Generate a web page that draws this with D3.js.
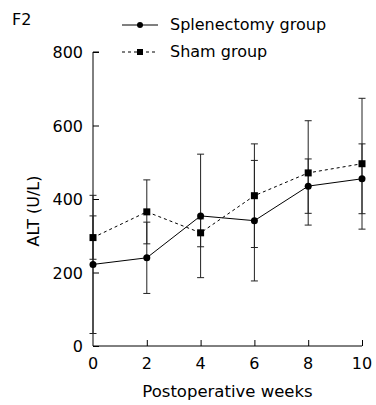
<!DOCTYPE html>
<html>
<head>
<meta charset="utf-8"/>
<script src="https://cdnjs.cloudflare.com/ajax/libs/d3/7.8.5/d3.min.js"></script>
<style>
  body { margin: 0; background: #fff; }
  text { font-family: "DejaVu Sans", Verdana, sans-serif; }
</style>
</head>
<body>
<script>
// postoperative weeks
const weeks = [0, 2, 4, 6, 8, 10];
// ALT (U/L), mean and SD
const splenMean = [222, 240, 354, 341, 435, 455];
const splenSD   = [188, 97, 168, 164, 74, 95];
const shamMean  = [295, 365, 308, 409, 471, 496];
const shamSD    = [59, 87, 38, 141, 142, 178];
const yTicks = [0, 200, 400, 600, 800];
const xTicks = [0, 2, 4, 6, 8, 10];

const width = 376, height = 405;
const margin = {top: 52, right: 14, bottom: 59, left: 93};

const svg = d3.select("body").append("svg")
    .attr("width", width)
    .attr("height", height);

const x = d3.scaleLinear().domain([0, 10]).range([margin.left, width - margin.right]);
const y = d3.scaleLinear().domain([0, 800]).range([height - margin.bottom, margin.top]);

// axes, ticks pointing inward
svg.append("g")
    .attr("transform", `translate(${margin.left},0)`)
    .call(d3.axisRight(y).tickValues(yTicks).tickSize(6).tickFormat(""))
    .call(g => g.select(".domain").attr("d", `M6,${y(800)}H0V${y(0)}`));

svg.append("g")
    .selectAll("text")
    .data(yTicks)
    .join("text")
    .attr("x", margin.left - 10)
    .attr("y", d => y(d) + 6)
    .attr("text-anchor", "end")
    .attr("font-size", 16)
    .text(d => d);

svg.append("g")
    .attr("transform", `translate(0,${height - margin.bottom})`)
    .call(d3.axisTop(x).tickValues(xTicks.slice(1)).tickSize(6).tickFormat(""))
    .call(g => g.select(".domain").attr("d", `M${x(0)},0H${x(10)}`));

svg.append("g")
    .selectAll("text")
    .data(xTicks)
    .join("text")
    .attr("x", d => x(d))
    .attr("y", height - margin.bottom + 23)
    .attr("text-anchor", "middle")
    .attr("font-size", 16)
    .text(d => d);

svg.selectAll(".domain, .tick line").attr("stroke", "#000");

// axis titles
svg.append("text")
    .attr("x", (x(0) + x(10)) / 2)
    .attr("y", 397)
    .attr("text-anchor", "middle")
    .attr("font-size", 16.5)
    .text("Postoperative weeks");

svg.append("text")
    .attr("transform", `translate(39,${y(400) + 12}) rotate(-90)`)
    .attr("text-anchor", "middle")
    .attr("font-size", 16)
    .text("ALT (U/L)");

svg.append("text")
    .attr("x", 12)
    .attr("y", 25)
    .attr("font-size", 16)
    .text("F2");

// error bars
function errorBars(mean, sd) {
  const g = svg.append("g").attr("stroke", "#222").attr("stroke-width", 1);
  weeks.forEach((w, i) => {
    const cx = x(w), hi = y(mean[i] + sd[i]), lo = y(mean[i] - sd[i]);
    g.append("line").attr("x1", cx).attr("x2", cx).attr("y1", hi).attr("y2", lo);
    g.append("line").attr("x1", cx - 3.5).attr("x2", cx + 3.5).attr("y1", hi).attr("y2", hi);
    g.append("line").attr("x1", cx - 3.5).attr("x2", cx + 3.5).attr("y1", lo).attr("y2", lo);
  });
}
errorBars(shamMean, shamSD);
errorBars(splenMean, splenSD);

const line = d3.line().x((d, i) => x(weeks[i])).y(d => y(d));

svg.append("path")
    .datum(shamMean)
    .attr("fill", "none")
    .attr("stroke", "#000")
    .attr("stroke-dasharray", "3,3")
    .attr("d", line);

svg.append("path")
    .datum(splenMean)
    .attr("fill", "none")
    .attr("stroke", "#000")
    .attr("d", line);

svg.append("g")
    .selectAll("rect")
    .data(shamMean)
    .join("rect")
    .attr("x", (d, i) => x(weeks[i]) - 3.5)
    .attr("y", d => y(d) - 3.5)
    .attr("width", 7)
    .attr("height", 7)
    .attr("fill", "#000");

svg.append("g")
    .selectAll("circle")
    .data(splenMean)
    .join("circle")
    .attr("cx", (d, i) => x(weeks[i]))
    .attr("cy", d => y(d))
    .attr("r", 3.5)
    .attr("fill", "#000");

// legend
const legend = svg.append("g");
legend.append("line").attr("x1", 122).attr("x2", 158).attr("y1", 25).attr("y2", 25).attr("stroke", "#000");
legend.append("circle").attr("cx", 140).attr("cy", 25).attr("r", 3).attr("fill", "#000");
legend.append("text").attr("x", 170).attr("y", 30).attr("font-size", 16).text("Splenectomy group");
legend.append("line").attr("x1", 122).attr("x2", 158).attr("y1", 52).attr("y2", 52)
    .attr("stroke", "#000").attr("stroke-dasharray", "3,3");
legend.append("rect").attr("x", 137).attr("y", 49).attr("width", 6).attr("height", 6).attr("fill", "#000");
legend.append("text").attr("x", 170).attr("y", 57).attr("font-size", 16).text("Sham group");
</script>
</body>
</html>
